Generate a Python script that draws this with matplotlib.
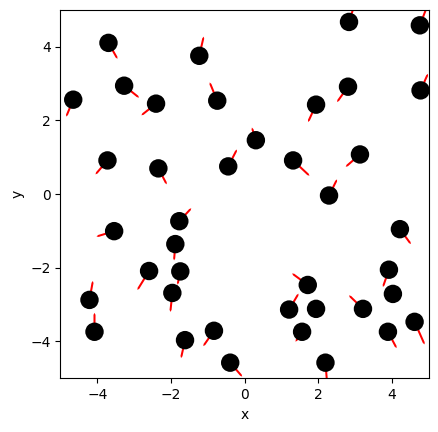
import matplotlib
matplotlib.use("Agg")
import matplotlib.pyplot as plt
from matplotlib.patches import Circle
import numpy as np

# particle positions
px = [-3.696, -4.652, -3.271, -2.405, -1.232, -0.745, -3.723, -2.342, -0.447, 0.303,
      2.830, 4.752, 2.803, 4.771, 1.936, 1.313, 3.127, 2.288, -3.542, -1.774,
      -1.882, -2.594, -1.747, -1.963, -4.211, -4.075, -1.619, -0.834, -0.393, 4.211,
      3.913, 4.021, 1.711, 1.205, 1.936, 3.209, 1.557, 3.886, 4.609, 2.191]
py = [4.100, 2.559, 2.938, 2.451, 3.749, 2.532, 0.911, 0.695, 0.749, 1.459,
      4.668, 4.576, 2.911, 2.811, 2.424, 0.911, 1.073, -0.041, -1.008, -0.738,
      -1.359, -2.089, -2.100, -2.684, -2.873, -3.738, -3.965, -3.711, -4.576, -0.954,
      -2.054, -2.711, -2.468, -3.135, -3.116, -3.116, -3.738, -3.738, -3.468, -4.576]
# velocities
vx = [0.244, -0.190, 0.406, -0.398, 0.119, -0.205, -0.325, 0.227, 0.236, -0.108,
      0.150, 0.180, -0.298, 0.200, -0.217, 0.444, -0.387, 0.217, -0.479, 0.325,
      -0.035, -0.317, -0.075, -0.054, 0.092, 0.000, -0.108, -0.290, 0.325, 0.298,
      -0.163, 0.050, -0.425, 0.255, 0.040, -0.379, -0.179, 0.235, 0.271, 0.040]
vy = [-0.432, -0.459, -0.324, -0.316, 0.521, 0.495, -0.379, -0.433, 0.459, 0.344,
      0.470, 0.470, -0.416, 0.450, -0.470, -0.416, -0.335, 0.438, -0.146, 0.352,
      -0.443, -0.514, -0.360, -0.514, 0.514, 0.514, -0.486, -0.416, -0.378, -0.405,
      -0.468, -0.200, 0.314, 0.432, -0.250, 0.367, -0.270, -0.443, -0.613, -0.500]

radius = 0.25

fig = plt.figure(figsize=(4.39, 4.32), dpi=100)
ax = fig.add_axes([60.4/439, (432-379)/432, (429-60.4)/439, (379-9)/432])

ax.quiver(px, py, vx, vy, color='red', angles='xy', scale_units='xy', scale=1,
          width=0.0055, headwidth=1, headlength=1, headaxislength=1, zorder=1)
for x, y in zip(px, py):
    ax.add_patch(Circle((x, y), radius, facecolor='black', edgecolor='none', zorder=2))

ax.set_xlim(-5, 5)
ax.set_ylim(-5, 5)
ax.set_aspect('equal')
ax.set_xlabel('x')
ax.set_ylabel('y')
ax.set_xticks([-4, -2, 0, 2, 4])
ax.set_yticks([-4, -2, 0, 2, 4])

fig.savefig('out.png', dpi=100)
